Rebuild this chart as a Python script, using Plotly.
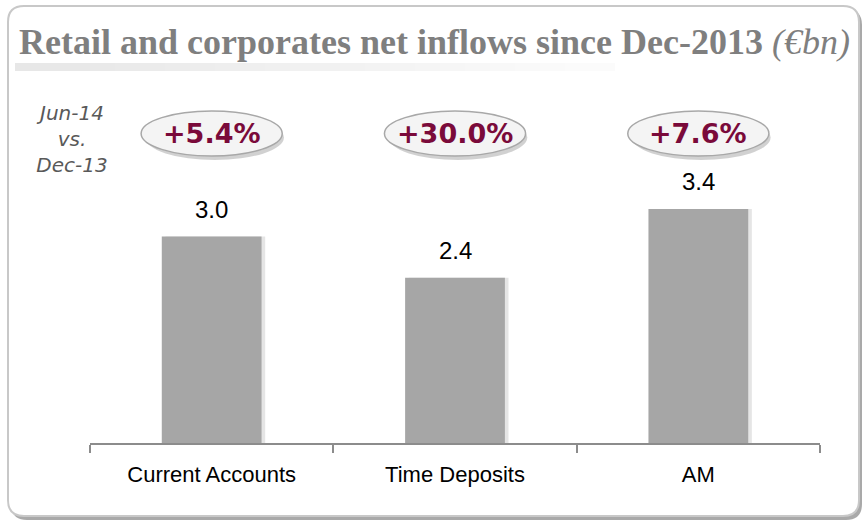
import plotly.graph_objects as go

categories = ["Current Accounts", "Time Deposits", "AM"]
values = [3.0, 2.4, 3.4]
value_labels = ["3.0", "2.4", "3.4"]
growth_labels = ["+5.4%", "+30.0%", "+7.6%"]
title_main = "Retail and corporates net inflows since Dec-2013"
title_unit = "(€bn)"
period_label = "Jun-14<br>vs.<br>Dec-13"

W, H = 865, 526
L, R, T, B = 90, 45, 165, 83
PW, PH = W - L - R, H - T - B


def px(x):
    return (x - L) / PW


def py(y):
    return (H - B - y) / PH


fig = go.Figure()

# soft shadow behind bars
fig.add_trace(go.Bar(
    x=categories, y=values, width=0.41, offset=-0.19,
    marker=dict(color="rgba(0,0,0,0.10)", line=dict(width=0)),
    hoverinfo="skip", showlegend=False,
))
fig.add_trace(go.Bar(
    x=categories, y=values, width=0.41, offset=-0.205,
    marker=dict(color="#a6a6a6", line=dict(width=0)),
    showlegend=False,
))

shapes = []


def rounded(x0, y0, x1, y1, r):
    return (f"M {px(x0 + r)} {py(y0)} L {px(x1 - r)} {py(y0)} "
            f"Q {px(x1)} {py(y0)} {px(x1)} {py(y0 + r)} "
            f"L {px(x1)} {py(y1 - r)} Q {px(x1)} {py(y1)} {px(x1 - r)} {py(y1)} "
            f"L {px(x0 + r)} {py(y1)} Q {px(x0)} {py(y1)} {px(x0)} {py(y1 - r)} "
            f"L {px(x0)} {py(y0 + r)} Q {px(x0)} {py(y0)} {px(x0 + r)} {py(y0)} Z")


shapes.append(dict(type="path", xref="paper", yref="paper", layer="below",
                   path=rounded(11, 9, 862, 520, 16),
                   fillcolor="#a9a9a9", line=dict(width=0)))
shapes.append(dict(type="path", xref="paper", yref="paper", layer="below",
                   path=rounded(8, 6, 859, 516, 16),
                   fillcolor="white", line=dict(color="#c8c8c8", width=2)))

# gradient strip under the title
n = 24
x_start, x_end = 15, 615
for i in range(n):
    xa = x_start + (x_end - x_start) * i / n
    xb = x_start + (x_end - x_start) * (i + 1) / n
    a = 0.16 * (1 - i / n) + 0.02
    shapes.append(dict(type="rect", xref="paper", yref="paper", layer="below",
                       x0=px(xa), x1=px(xb), y0=py(71), y1=py(63),
                       fillcolor=f"rgba(120,120,120,{a:.3f})", line=dict(width=0)))

# ellipses for growth labels
for i in range(len(categories)):
    shapes.append(dict(type="circle", xref="x", yref="paper",
                       x0=i - 0.285 + 0.012, x1=i + 0.285 + 0.012,
                       y0=py(160), y1=py(115),
                       fillcolor="rgba(0,0,0,0.18)", line=dict(width=0)))
    shapes.append(dict(type="circle", xref="x", yref="paper",
                       x0=i - 0.29, x1=i + 0.29, y0=py(156), y1=py(111),
                       fillcolor="#f4f4f4", line=dict(color="#a8a8a8", width=1.5)))

annotations = []
annotations.append(dict(
    xref="paper", yref="paper", x=px(17), y=py(42), xanchor="left", yanchor="middle",
    text=f"<b>{title_main}</b> <i>{title_unit}</i>", showarrow=False,
    font=dict(family="Liberation Serif", size=36, color="#7f7f7f"),
))
annotations.append(dict(
    xref="paper", yref="paper", x=px(72), y=py(139), xanchor="center", yanchor="middle",
    text=f"<i>{period_label}</i>", showarrow=False,
    font=dict(family="DejaVu Sans", size=20, color="#595959"),
))
for i, g in enumerate(growth_labels):
    annotations.append(dict(
        xref="x", yref="paper", x=i, y=py(133), xanchor="center", yanchor="middle",
        text=f"<b>{g}</b>", showarrow=False,
        font=dict(family="DejaVu Sans", size=27, color="#7a0a3a"),
    ))
for c, v, t in zip(categories, values, value_labels):
    annotations.append(dict(
        xref="x", yref="y", x=c, y=v, xanchor="center", yanchor="bottom", yshift=12,
        text=t, showarrow=False,
        font=dict(family="Liberation Sans", size=24, color="#000000"),
    ))

fig.update_layout(
    width=W, height=H,
    margin=dict(l=L, r=R, t=T, b=B),
    paper_bgcolor="white", plot_bgcolor="rgba(0,0,0,0)",
    barmode="overlay", bargap=0.59,
    shapes=shapes, annotations=annotations,
    showlegend=False,
)
fig.update_xaxes(
    type="category", range=[-0.5, 2.5],
    showline=True, linecolor="#8c8c8c", linewidth=1.5,
    ticks="outside", tickson="boundaries", ticklen=8, tickcolor="#8c8c8c", tickwidth=1.5,
    ticklabelstandoff=11,
    tickfont=dict(family="Liberation Sans", size=22, color="#000000"),
    showgrid=False, zeroline=False,
)
fig.update_yaxes(range=[0, 4.04], visible=False, showgrid=False, zeroline=False)

fig.write_html("out.html", config={"displayModeBar": False},
               post_script="document.body.style.margin='0px';")
